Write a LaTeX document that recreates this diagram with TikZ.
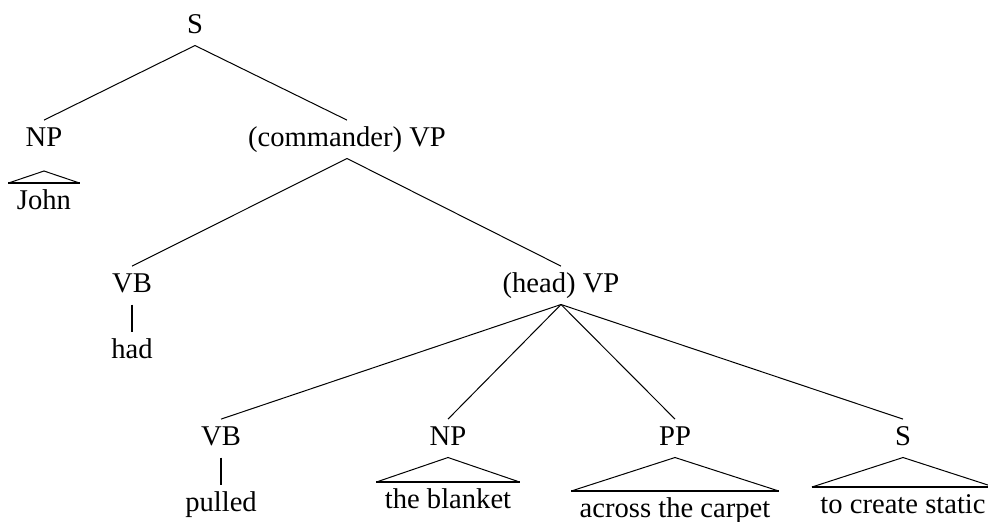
\documentclass[tikz,border=0pt]{standalone}
\usepackage{fontspec}
\setmainfont{Liberation Serif}
\usepackage{tikz}
\usetikzlibrary{positioning}

\begin{document}
\begin{tikzpicture}[x=0.5pt,y=-0.5pt,line width=0.5pt,
      font=\fontsize{14.3}{17}\selectfont,
      cat/.style={inner sep=0pt,text height=12.7pt,text depth=6pt,anchor=base},
      leaf/.style={inner xsep=4pt,inner ysep=3pt,text height=10pt,text depth=3pt,anchor=north},
      bar/.style={line width=1.3pt}]
      \useasboundingbox (0,0) rectangle (988,521);

      \node[cat] (s-top) at (195,33) {S};
      \node[cat] (np-subj) at (44,146) {NP};
      \node[cat] (vp-comm) at (347,146) {(commander) VP};
      \node[cat] (vb-had) at (132,292) {VB};
      \node[cat] (vp-head) at (561,292) {(head) VP};
      \node[cat] (vb-pull) at (221,445) {VB};
      \node[cat] (np-obj) at (448,445) {NP};
      \node[cat] (pp) at (675,445) {PP};
      \node[cat] (s-comp) at (903,445) {S};

      \node[leaf] (john) at (44,183) {John};
      \node[leaf] (had) at (132,332) {had};
      \node[leaf] (pulled) at (221,485) {pulled};
      \node[leaf] (blanket) at (448,482) {the blanket};
      \node[leaf] (carpet) at (675,491) {across the carpet};
      \node[leaf] (static) at (903,487) {to create static};
      \coordinate (np-subj-tip) at (44,171);

      \draw (s-top.south) -- (np-subj.north);
      \draw (s-top.south) -- (vp-comm.north);
      \draw (vp-comm.south) -- (vb-had.north);
      \draw (vp-comm.south) -- (vp-head.north);
      \draw (vp-head.south) -- (vb-pull.north);
      \draw (vp-head.south) -- (np-obj.north);
      \draw (vp-head.south) -- (pp.north);
      \draw (vp-head.south) -- (s-comp.north);

      \draw[bar] (vb-had.south) -- (had.north);
      \draw[bar] (vb-pull.south) -- (pulled.north);

      \draw (john.north west) -- (np-subj-tip) -- (john.north east);
      \draw[bar] (john.north west) -- (john.north east);
      \draw (blanket.north west) -- (np-obj.south) -- (blanket.north east);
      \draw[bar] (blanket.north west) -- (blanket.north east);
      \draw (carpet.north west) -- (pp.south) -- (carpet.north east);
      \draw[bar] (carpet.north west) -- (carpet.north east);
      \draw (static.north west) -- (s-comp.south) -- (static.north east);
      \draw[bar] (static.north west) -- (static.north east);
\end{tikzpicture}
\end{document}
